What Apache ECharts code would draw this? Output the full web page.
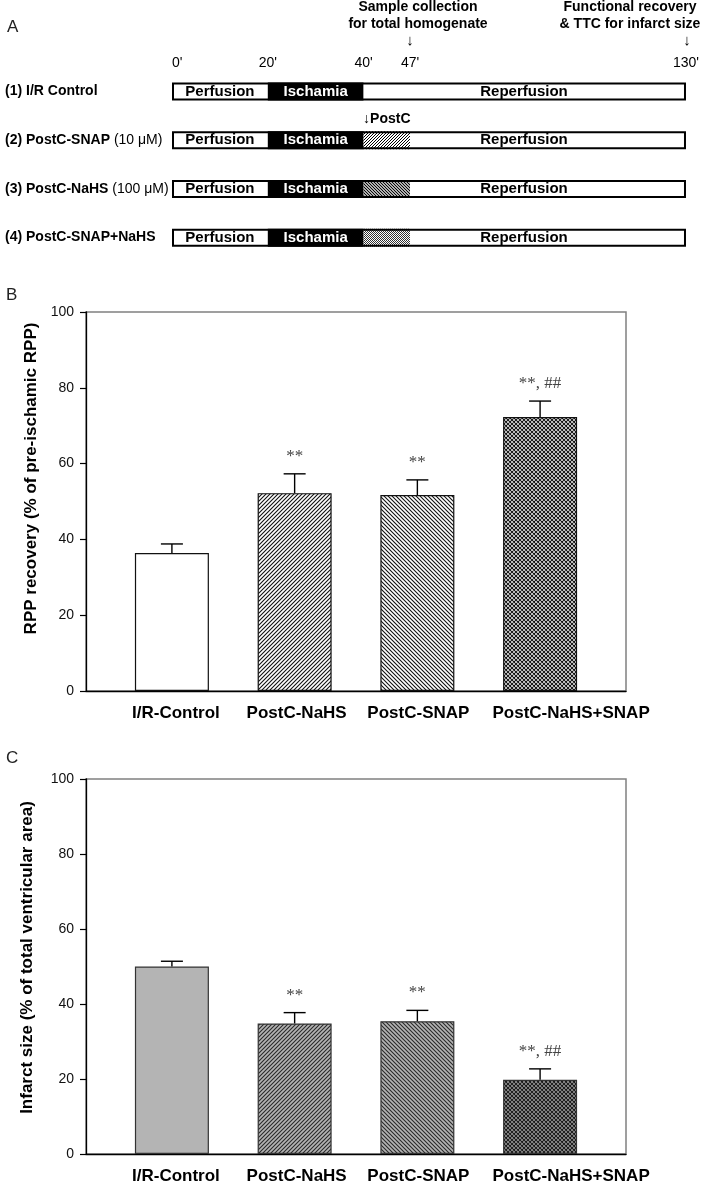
<!DOCTYPE html>
<html>
<head>
<meta charset="utf-8">
<script src="https://cdn.jsdelivr.net/npm/echarts@6/dist/echarts.min.js"></script>
<style>
html,body{margin:0;padding:0;background:#fff;}
#chart{width:702px;height:1185px;}
</style>
</head>
<body>
<div id="chart"></div>
<script>
// ---------- Panel A: protocol schematic ----------
const rowLabels = ['(1) I/R Control', '(2) PostC-SNAP', '(3) PostC-NaHS', '(4) PostC-SNAP+NaHS'];
const rowDoses = ['', '(10 \u03bcM)', '(100 \u03bcM)', ''];
const phaseNames = ['Perfusion', 'Ischamia', 'PostC', 'Reperfusion'];
const phaseLengths = [20, 20, 9.7, 57.6];          // schematic widths of phases
const timeTickLabels = ["0'", "20'", "40'", "47'", "130'"];

// ---------- Panels B & C ----------
const categories = ['I/R-Control', 'PostC-NaHS', 'PostC-SNAP', 'PostC-NaHS+SNAP'];
const rppMean = [36.4, 52.2, 51.7, 72.3];
const rppErr = [2.4, 5.1, 4.0, 4.2];
const rppSig = ['', '**', '**', '**, ##'];
const infarctMean = [50.0, 34.8, 35.4, 19.8];
const infarctErr = [1.4, 2.9, 2.9, 2.9];
const infarctSig = ['', '**', '**', '**, ##'];
const yTicks = [0, 20, 40, 60, 80, 100];

// ---------- patterns ----------
function hatch(bg, fg, dirs, s, lw) {
  const c = document.createElement('canvas');
  c.width = s; c.height = s;
  const g = c.getContext('2d');
  g.fillStyle = bg; g.fillRect(0, 0, s, s);
  g.strokeStyle = fg; g.lineWidth = lw;
  g.beginPath();
  if (dirs.indexOf('f') >= 0) {
    g.moveTo(-1, s + 1); g.lineTo(s + 1, -1);
    g.moveTo(-1, 1); g.lineTo(1, -1);
    g.moveTo(s - 1, s + 1); g.lineTo(s + 1, s - 1);
  }
  if (dirs.indexOf('b') >= 0) {
    g.moveTo(-1, -1); g.lineTo(s + 1, s + 1);
    g.moveTo(s - 1, -1); g.lineTo(s + 1, 1);
    g.moveTo(-1, s - 1); g.lineTo(1, s + 1);
  }
  g.stroke();
  return { image: c, repeat: 'repeat' };
}
function checker(bg, fg) {
  const c = document.createElement('canvas');
  c.width = 2; c.height = 2;
  const g = c.getContext('2d');
  g.fillStyle = bg; g.fillRect(0, 0, 2, 2);
  g.fillStyle = fg; g.fillRect(0, 0, 1, 1); g.fillRect(1, 1, 1, 1);
  return { image: c, repeat: 'repeat' };
}

const postcFills = ['#ffffff', hatch('#ffffff', '#000', 'f', 3, 1), hatch('#ffffff', '#000', 'b', 3, 1.2), checker('#ffffff', '#333')];
const fillsB = ['#ffffff', hatch('#ffffff', '#111', 'f', 4, 1.1), hatch('#ffffff', '#111', 'b', 4, 1.1), hatch('#ffffff', '#111', 'fb', 4, 1.1)];
const fillsC = ['#b4b4b4', hatch('#b4b4b4', '#2a2a2a', 'f', 4, 1.1), hatch('#b4b4b4', '#2a2a2a', 'b', 4, 1.1), hatch('#a8a8a8', '#1a1a1a', 'fb', 4, 1.1)];

const FONT = '"Liberation Sans", Arial, Helvetica, sans-serif';
const SERIF = '"Liberation Serif", "Times New Roman", serif';

const cum = [0];
phaseLengths.forEach(function (v, i) { cum.push(cum[i] + v); });
const total = cum[cum.length - 1];

const chart = echarts.init(document.getElementById('chart'), null, { renderer: 'canvas' });

function phaseSeries(pi) {
  return {
    type: 'bar', stack: 'proto', xAxisIndex: 0, yAxisIndex: 0, barWidth: 18, silent: true,
    data: rowLabels.map(function (r, ri) {
      const item = { value: phaseLengths[pi] };
      if (pi === 2) {
        item.itemStyle = { color: postcFills[ri] };
        if (ri === 1) item.label = { show: true, position: 'top', distance: 5, formatter: '\u2193' + phaseNames[2], fontWeight: 'bold', fontSize: 14, color: '#000', fontFamily: FONT };
      }
      return item;
    }),
    itemStyle: { color: pi === 1 ? '#000' : '#fff', borderWidth: 0 },
    label: pi === 2 ? { show: false } : {
      show: true, position: 'inside', formatter: phaseNames[pi], fontWeight: 'bold', fontSize: 15,
      color: pi === 1 ? '#fff' : '#000', fontFamily: FONT, offset: pi === 3 ? [-24, 0] : [0, 0]
    }
  };
}

function xAxisPanel(gi) {
  const shift = [4, 2, 1, 31];
  return {
    gridIndex: gi, type: 'value', min: -0.7, max: 3.7,
    axisLine: { show: true, onZero: false, lineStyle: { color: '#000', width: 1.3 } },
    axisTick: { show: false }, splitLine: { show: false },
    axisLabel: {
      customValues: [0, 1, 2, 3], margin: 14,
      formatter: function (v) { const i = Math.round(v); return '{l' + i + '|' + categories[i] + '}'; },
      rich: {
        l0: { fontSize: 17, fontWeight: 'bold', color: '#000', fontFamily: FONT, padding: [0, 0, 0, 2 * shift[0]] },
        l1: { fontSize: 17, fontWeight: 'bold', color: '#000', fontFamily: FONT, padding: [0, 0, 0, 2 * shift[1]] },
        l2: { fontSize: 17, fontWeight: 'bold', color: '#000', fontFamily: FONT, padding: [0, 0, 0, 2 * shift[2]] },
        l3: { fontSize: 17, fontWeight: 'bold', color: '#000', fontFamily: FONT, padding: [0, 0, 0, 2 * shift[3]] }
      }
    }
  };
}
function yAxisPanel(gi, name, gap, pad) {
  return {
    gridIndex: gi, type: 'value', min: yTicks[0], max: yTicks[yTicks.length - 1], interval: yTicks[1] - yTicks[0],
    axisLine: { show: true, onZero: false, lineStyle: { color: '#000', width: 1.3 } },
    axisTick: { show: true, inside: false, length: 6, lineStyle: { color: '#000', width: 1.2 } },
    splitLine: { show: false },
    axisLabel: { fontSize: 14, color: '#111', margin: 12, fontFamily: FONT },
    name: name, nameLocation: 'middle', nameGap: gap,
    nameTextStyle: { fontSize: 17, fontWeight: 'bold', color: '#000', fontFamily: FONT, padding: [0, 0, 0, pad] }
  };
}
function barSeries(gi, means, fills, border) {
  return {
    type: 'bar', xAxisIndex: gi, yAxisIndex: gi, barWidth: 74, silent: true,
    data: means.map(function (v, i) { return { value: [i, v], itemStyle: { color: fills[i] } }; }),
    itemStyle: { borderColor: border, borderWidth: 1.2 }
  };
}
function errSeries(gi, means, errs, sigs) {
  return {
    type: 'custom', xAxisIndex: gi, yAxisIndex: gi, silent: true, z: 5,
    encode: { x: 0, y: 1 },
    data: means.map(function (v, i) { return [i, v, errs[i]]; }),
    renderItem: function (params, api) {
      const x = api.value(0), y = api.value(1), e = api.value(2);
      const p0 = api.coord([x, y]);
      const p1 = api.coord([x, y + e]);
      const ls = { stroke: '#000', lineWidth: 1.4 };
      return {
        type: 'group', children: [
          { type: 'line', shape: { x1: p0[0], y1: p0[1], x2: p1[0], y2: p1[1] }, style: ls },
          { type: 'line', shape: { x1: p1[0] - 11, y1: p1[1], x2: p1[0] + 11, y2: p1[1] }, style: ls },
          { type: 'text', style: { text: sigs[params.dataIndex], x: p1[0], y: p1[1] - 9, align: 'center', verticalAlign: 'bottom', textAlign: 'center', textVerticalAlign: 'bottom', font: '17px ' + SERIF, fill: '#444' } }
        ]
      };
    }
  };
}

const option = {
  animation: false,
  backgroundColor: '#fff',
  textStyle: { fontFamily: FONT },
  graphic: [
    { type: 'text', left: 7, top: 19, style: { text: 'A', font: '17px ' + FONT, fill: '#222' } },
    { type: 'text', left: 6, top: 287, style: { text: 'B', font: '17px ' + FONT, fill: '#222' } },
    { type: 'text', left: 6, top: 750, style: { text: 'C', font: '17px ' + FONT, fill: '#222' } },
    { type: 'text', x: 418, y: -1, style: { text: 'Sample collection\nfor total homogenate', align: 'center', textAlign: 'center', lineHeight: 17, font: 'bold 14px ' + FONT, fill: '#000' } },
    { type: 'text', x: 410, y: 33, style: { text: '\u2193', align: 'center', textAlign: 'center', font: 'bold 15px ' + FONT, fill: '#000' } },
    { type: 'text', x: 630, y: -1, style: { text: 'Functional recovery\n& TTC for infarct size', align: 'center', textAlign: 'center', lineHeight: 17, font: 'bold 14px ' + FONT, fill: '#000' } },
    { type: 'text', x: 687, y: 33, style: { text: '\u2193', align: 'center', textAlign: 'center', font: 'bold 15px ' + FONT, fill: '#000' } }
  ],
  grid: [
    { left: 172, right: 12, top: 67, height: 195 },
    { left: 86, right: 76, top: 312, height: 379, show: true, borderColor: '#808080', borderWidth: 1.5, backgroundColor: 'transparent' },
    { left: 86, right: 76, top: 779, height: 379, show: true, borderColor: '#808080', borderWidth: 1.5, backgroundColor: 'transparent' }
  ],
  xAxis: [
    {
      gridIndex: 0, type: 'value', min: 0, max: total, position: 'top',
      axisLine: { show: false }, axisTick: { show: false }, splitLine: { show: false },
      axisLabel: {
        customValues: cum, margin: -3, fontSize: 14, color: '#000', fontFamily: FONT, alignMinLabel: 'left',
        formatter: function (v, i) { return timeTickLabels[cum.indexOf(v)] || ''; }
      }
    },
    xAxisPanel(1),
    xAxisPanel(2)
  ],
  yAxis: [
    {
      gridIndex: 0, type: 'category', data: rowLabels, inverse: true,
      axisLine: { show: false }, axisTick: { show: false }, splitLine: { show: false },
      axisLabel: {
        align: 'left', margin: 167,
        formatter: function (v, i) { return '{b|' + v + '}' + (rowDoses[i] ? '{n| ' + rowDoses[i] + '}' : ''); },
        rich: {
          b: { fontSize: 14, fontWeight: 'bold', color: '#000', fontFamily: FONT },
          n: { fontSize: 14, color: '#000', fontFamily: FONT }
        }
      }
    },
    yAxisPanel(1, 'RPP recovery (% of pre-ischamic RPP)', 46, 46),
    yAxisPanel(2, 'Infarct size (% of total ventricular area)', 50, 18)
  ],
  series: [
    phaseSeries(0), phaseSeries(1), phaseSeries(2), phaseSeries(3),
    {
      type: 'bar', xAxisIndex: 0, yAxisIndex: 0, barWidth: 18, barGap: '-100%', silent: true, z: 4,
      data: rowLabels.map(function () { return total; }),
      itemStyle: { color: 'rgba(0,0,0,0)', borderColor: '#000', borderWidth: 2 }
    },
    barSeries(1, rppMean, fillsB, '#111'),
    errSeries(1, rppMean, rppErr, rppSig),
    barSeries(2, infarctMean, fillsC, '#333'),
    errSeries(2, infarctMean, infarctErr, infarctSig)
  ]
};
chart.setOption(option);
</script>
</body>
</html>
